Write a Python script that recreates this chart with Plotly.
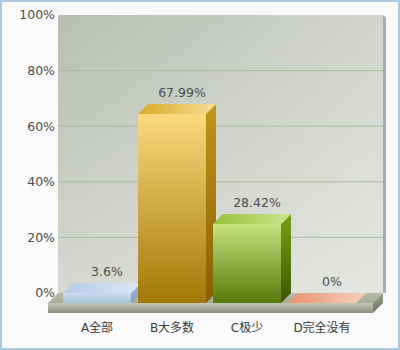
import plotly.graph_objects as go

# ---- data -------------------------------------------------------------
categories = ["A全部", "B大多数", "C极少", "D完全没有"]
values = [3.6, 67.99, 28.42, 0]
y_ticks = [0, 20, 40, 60, 80, 100]

# ---- 3D geometry (in axis units) ---------------------------------------
PX_X = 75.0            # pixels per category slot
PX_Y = 2.78            # pixels per percentage point
DX = 10 / PX_X         # depth offset, horizontal
DY = 10 / PX_Y         # depth offset, vertical
BAR_W = 68 / PX_X
WALL_L = (58 - 107) / PX_X
WALL_R = (383 - 107) / PX_X
FLOOR_H = 10 / PX_Y

# per-bar palette: front (bottom, top), top face (left, right), side (bottom, top)
palette = [
    dict(front=("#a9c2df", "#cadcf0"), top=("#b3cbe7", "#dbe8f6"), side=("#819dbf", "#9fb8d5")),
    dict(front=("#a27806", "#fbda7e"), top=("#d9aa2a", "#f7de92"), side=("#875f00", "#c4951a")),
    dict(front=("#587a0a", "#c6e381"), top=("#96c038", "#cbe68e"), side=("#3c5603", "#79a116")),
    dict(front=("#d9734f", "#f3a585"), top=("#ec916b", "#f5d0bf"), side=("#b8603f", "#d9825f")),
]

fig = go.Figure()


def face(xs, ys, color=None, grad=None):
    tr = dict(x=list(xs) + [xs[0]], y=list(ys) + [ys[0]], mode="lines",
              fill="toself", line=dict(width=0), hoverinfo="skip",
              showlegend=False)
    if grad is not None:
        gtype, c0, c1, start, stop = grad
        tr["fillgradient"] = dict(type=gtype, colorscale=[[0, c0], [1, c1]],
                                  start=start, stop=stop)
    else:
        tr["fillcolor"] = color
    fig.add_trace(go.Scatter(**tr))


top_val = y_ticks[-1]

# back wall: vertical shading plus a horizontal light wash
wall_x = [WALL_L, WALL_R, WALL_R, WALL_L]
wall_y = [0, 0, top_val, top_val]
face(wall_x, wall_y, grad=("vertical", "#d6d9d1", "#b8beb3", 0, top_val))
face(wall_x, wall_y, grad=("horizontal", "rgba(255,255,255,0)",
                            "rgba(255,255,255,0.36)", WALL_L, WALL_R))
# thin right edge of the wall
edge = 3 / PX_X
face([WALL_R, WALL_R + edge, WALL_R + edge, WALL_R],
     [top_val, top_val - 1, 0, 0], color="#a9aea3")

# grid lines on the wall
for t in y_ticks[1:-1]:
    fig.add_trace(go.Scatter(x=[WALL_L, WALL_R], y=[t, t], mode="lines",
                             line=dict(color="#adba9c", width=1),
                             hoverinfo="skip", showlegend=False))

# floor slab
face([WALL_L, WALL_R, WALL_R - DX, WALL_L - DX], [0, 0, -DY, -DY],
     grad=("vertical", "#a4aa94", "#b7bcaa", -DY, 0))
face([WALL_L - DX, WALL_R - DX, WALL_R - DX, WALL_L - DX],
     [-DY, -DY, -DY - FLOOR_H, -DY - FLOOR_H],
     grad=("vertical", "#8b927b", "#c3c7b7", -DY - FLOOR_H, -DY))
face([WALL_R - DX, WALL_R, WALL_R, WALL_R - DX],
     [-DY, 0, -FLOOR_H, -DY - FLOOR_H],
     grad=("vertical", "#6f775f", "#9aa08b", -DY - FLOOR_H, 0))

# bars
for i, v in enumerate(values):
    p = palette[i]
    xl, xr = i - BAR_W / 2, i + BAR_W / 2
    if v > 0:
        face([xl - DX, xr - DX, xr - DX, xl - DX], [-DY, -DY, v - DY, v - DY],
             grad=("vertical", p["front"][0], p["front"][1], -DY, v - DY))
        face([xr - DX, xr, xr, xr - DX], [-DY, 0, v, v - DY],
             grad=("vertical", p["side"][0], p["side"][1], -DY, v))
    face([xl - DX, xr - DX, xr, xl], [v - DY, v - DY, v, v],
         grad=("horizontal", p["top"][0], p["top"][1], xl - DX, xr))

# value labels (invisible marker pads the text above the bar top)
fig.add_trace(go.Scatter(
    x=list(range(len(values))), y=values, mode="markers+text",
    marker=dict(size=4, opacity=0),
    text=[f"{v:g}%" for v in values], textposition="top center",
    textfont=dict(family="DejaVu Sans", size=12.5, color="#4d4d4d"),
    cliponaxis=False, hoverinfo="skip", showlegend=False))

# outer frame
L, R, T, B = 44, 4, 10, 34
W, H = 400, 350
pw, ph = W - L - R, H - T - B


def px_x(px):
    return (px - L) / pw


def px_y(py):
    return (H - B - py) / ph


fig.add_shape(type="rect", xref="paper", yref="paper",
              x0=px_x(1), x1=px_x(W - 1), y0=px_y(H - 1), y1=px_y(1),
              line=dict(color="#a9cbe3", width=2), layer="below")

fig.update_layout(
    width=W, height=H,
    margin=dict(l=L, r=R, t=T, b=B),
    paper_bgcolor="#fafafa", plot_bgcolor="rgba(0,0,0,0)",
    font=dict(family="DejaVu Sans, Noto Sans CJK SC", size=12, color="#4d4d4d"),
    xaxis=dict(range=[(L - 107) / PX_X, (W - R - 107) / PX_X],
               tickvals=[i - DX for i in range(len(categories))],
               ticktext=categories, showgrid=False, zeroline=False,
               showline=False, ticks="", fixedrange=True,
               ticklabelstandoff=3,
               tickfont=dict(family="DejaVu Sans, Noto Sans CJK SC",
                             size=12, color="#3a3a3a")),
    yaxis=dict(range=[(293 - (H - B)) / PX_Y, (293 - T) / PX_Y],
               tickvals=y_ticks, ticktext=[f"{t}%" for t in y_ticks],
               showgrid=False, zeroline=False, showline=False, ticks="",
               ticklabelstandoff=-12, fixedrange=True,
               tickfont=dict(family="DejaVu Sans", size=12.5, color="#4d4d4d")),
)

fig.write_html("out.html")
